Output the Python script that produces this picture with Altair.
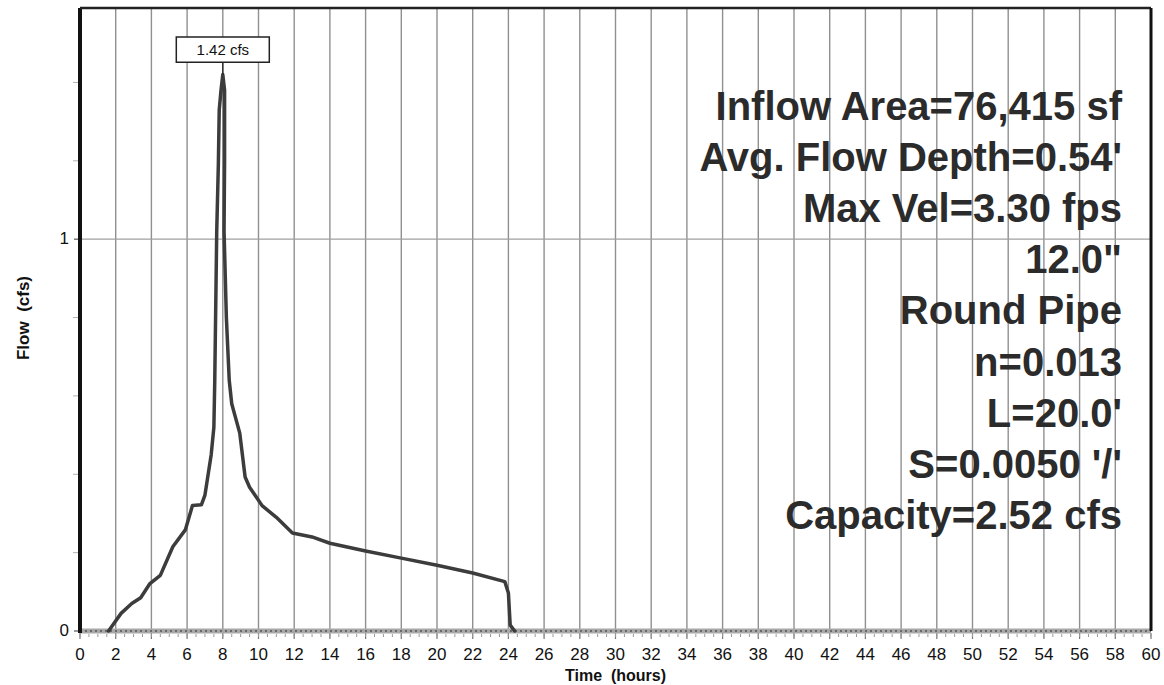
import altair as alt
import pandas as pd

# Outflow hydrograph of the pipe reach
hours = [1.6, 2.3, 2.9, 3.4, 3.9, 4.5, 5.2, 5.9, 6.3, 6.8, 7.0, 7.35, 7.5, 7.55,
         7.66, 7.75, 7.8, 7.9, 8.0, 8.1, 8.1, 8.07, 8.2, 8.36, 8.5, 8.95, 9.25,
         9.5, 10.2, 11.0, 11.9, 13.0, 14.0, 16.0, 18.0, 20.0, 22.0, 23.8, 24.0,
         24.1, 24.35]
flow_cfs = [0.0, 0.045, 0.07, 0.085, 0.12, 0.142, 0.215, 0.258, 0.32, 0.322,
            0.347, 0.45, 0.52, 0.64, 1.02, 1.19, 1.33, 1.38, 1.42, 1.38, 1.2,
            1.02, 0.8, 0.64, 0.58, 0.505, 0.393, 0.367, 0.32, 0.29, 0.25, 0.24,
            0.224, 0.204, 0.186, 0.168, 0.148, 0.126, 0.097, 0.015, 0.0]

peak_time = 8.0
peak_flow = 1.42

x_ticks = list(range(0, 61, 2))
x_minor = [v / 2 for v in range(0, 121)]
y_labels = [0, 1]
y_minor = [0.2, 0.4, 0.6, 0.8, 1.2, 1.4]

x_title = "Time\u00a0 (hours)"
y_title = "Flow\u00a0 (cfs)"

info_lines = [
    "Inflow Area=76,415 sf",
    "Avg. Flow Depth=0.54'",
    "Max Vel=3.30 fps",
    '12.0"',
    "Round Pipe",
    "n=0.013",
    "L=20.0'",
    "S=0.0050 '/'",
    "Capacity=2.52 cfs",
]

W, H = 1071, 623
FONT = "Liberation Sans"

xs = alt.Scale(domain=[0, 60], nice=False, zero=False)
ys = alt.Scale(domain=[0, 1.59], nice=False, zero=False)


def xq(field):
    return alt.X(field, scale=xs, axis=None)


def yq(field):
    return alt.Y(field, scale=ys, axis=None)


curve = pd.DataFrame({"t": hours, "q": flow_cfs, "i": list(range(len(hours)))})
peak = pd.DataFrame({"t": [peak_time], "q": [peak_flow],
                     "label": [f"{peak_flow:.2f} cfs"]})
xt = pd.DataFrame({"t": x_ticks})
yl = pd.DataFrame({"q": y_labels})
one = pd.DataFrame({"k": [0]})

# grid and axes, drawn as marks on the shared scales
grid_x = alt.Chart(xt).mark_rule(color="#909090", strokeWidth=1.4).encode(
    x=xq("t:Q"), y=alt.value(0), y2=alt.value(H))
grid_y = alt.Chart(yl).mark_rule(color="#a0a0a0", strokeWidth=1.2).encode(
    y=yq("q:Q"), x=alt.value(0), x2=alt.value(W))
tick_x = alt.Chart(xt).mark_rule(color="#777", strokeWidth=1.2).encode(
    x=xq("t:Q"), y=alt.value(H + 2), y2=alt.value(H + 8))
minor_x = alt.Chart(pd.DataFrame({"t": x_minor})).mark_rule(
    color="#9a9a9a", strokeWidth=1
).encode(x=xq("t:Q"), y=alt.value(H + 3), y2=alt.value(H + 6))
label_x = alt.Chart(xt).mark_text(
    font=FONT, fontSize=17, color="#111", baseline="alphabetic", align="center"
).encode(x=xq("t:Q"), y=alt.value(H + 29), text=alt.Text("t:Q", format="d"))
title_x = alt.Chart(one).mark_text(
    text=x_title, font=FONT, fontSize=16, fontWeight="bold", color="#111",
    baseline="alphabetic", align="center"
).encode(x=alt.value(W / 2), y=alt.value(H + 50))

tick_y = alt.Chart(yl).mark_rule(color="#555", strokeWidth=1.2).encode(
    y=yq("q:Q"), x=alt.value(-6), x2=alt.value(0))
minor_y = alt.Chart(pd.DataFrame({"q": y_minor})).mark_rule(
    color="#b0b0b0", strokeWidth=1
).encode(y=yq("q:Q"), x=alt.value(-7), x2=alt.value(-2))
label_y = alt.Chart(yl).mark_text(
    font=FONT, fontSize=17, color="#111", baseline="middle", align="right"
).encode(y=yq("q:Q"), x=alt.value(-11), text=alt.Text("q:Q", format="d"))
title_y = alt.Chart(one).mark_text(
    text=y_title, font=FONT, fontSize=17, fontWeight="bold", color="#111",
    baseline="alphabetic", align="center", angle=270
).encode(x=alt.value(-51), y=alt.value(310))

# zero-flow band along the time axis
band_df = pd.DataFrame({"t0": [0], "t1": [60], "q": [0]})
band = alt.Chart(band_df).mark_rule(color="#a8a8a8", strokeWidth=5).encode(
    x=xq("t0:Q"), x2="t1:Q", y=yq("q:Q"))
band_hatch = alt.Chart(band_df).mark_rule(
    color="#6a6a6a", strokeWidth=2, strokeDash=[2, 3]
).encode(x=xq("t0:Q"), x2="t1:Q", y=yq("q:Q"))

line = alt.Chart(curve).mark_line(
    color="#3c3c3c", strokeWidth=3.5, strokeJoin="round", strokeCap="round"
).encode(x=xq("t:Q"), y=yq("q:Q"), order="i:Q")

# peak callout
connector = alt.Chart(peak).mark_rule(
    color="#222", strokeWidth=1.3, y2Offset=-12
).encode(x=xq("t:Q"), y=yq("q:Q"), y2="q:Q")
box = alt.Chart(peak).mark_point(
    shape="M-1,-0.27H1V0.27H-1Z", size=93 * 93, filled=True, fill="white",
    stroke="#222", strokeWidth=1.5, opacity=1, yOffset=-25
).encode(x=xq("t:Q"), y=yq("q:Q"))
box_text = alt.Chart(peak).mark_text(
    font=FONT, fontSize=15, color="#111", yOffset=-25, baseline="middle",
    align="center"
).encode(x=xq("t:Q"), y=yq("q:Q"), text="label:N")

# pipe summary, first line centred at the given y, the rest stacked below
info = alt.Chart(one).mark_text(
    text=info_lines, align="right", baseline="middle", font=FONT, fontSize=40,
    fontWeight="bold", lineHeight=51.2, color="#2b2b2b"
).encode(x=alt.value(1042), y=alt.value(99.5))

left_axis = alt.Chart(one).mark_rule(color="#111", strokeWidth=4).encode(
    x=alt.value(0), y=alt.value(0), y2=alt.value(H + 2))
top_border = alt.Chart(one).mark_rule(color="#222", strokeWidth=2.5).encode(
    x=alt.value(0), x2=alt.value(W), y=alt.value(0))
right_border = alt.Chart(one).mark_rule(color="#111", strokeWidth=3).encode(
    x=alt.value(W), y=alt.value(0), y2=alt.value(H))

chart = alt.layer(
    grid_x, grid_y, tick_x, minor_x, label_x, title_x, tick_y, minor_y,
    label_y, title_y, band, band_hatch, line, connector, box, box_text, info,
    left_axis, top_border, right_border
).properties(
    width=W, height=H,
    autosize=alt.AutoSizeParams(type="none"),
    padding={"left": 80, "top": 8, "right": 13, "bottom": 54},
    background="white",
).configure_view(stroke=None)

chart.save("out.html", embed_options={"renderer": "svg", "actions": False})
